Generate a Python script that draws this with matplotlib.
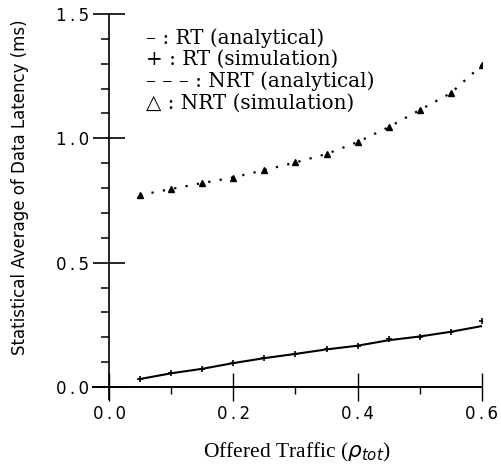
import matplotlib
matplotlib.use("Agg")
import matplotlib.pyplot as plt
from matplotlib.ticker import MultipleLocator, FixedLocator

# Offered traffic values
x_vals = [0.05, 0.10, 0.15, 0.20, 0.25, 0.30, 0.35, 0.40, 0.45, 0.50, 0.55, 0.60]

# RT (analytical / simulation)
rt_analytical = [0.032, 0.055, 0.073, 0.096, 0.116, 0.133, 0.151, 0.166, 0.188, 0.203, 0.222, 0.245]
rt_simulation = [0.032, 0.056, 0.072, 0.097, 0.117, 0.133, 0.153, 0.165, 0.193, 0.201, 0.221, 0.265]

# NRT (analytical / simulation)
nrt_analytical = [0.772, 0.796, 0.820, 0.843, 0.872, 0.903, 0.937, 0.985, 1.045, 1.114, 1.182, 1.295]
nrt_simulation = [0.772, 0.796, 0.820, 0.840, 0.872, 0.904, 0.936, 0.985, 1.045, 1.114, 1.182, 1.295]

y_ticks = [0.0, 0.5, 1.0, 1.5]
x_ticks = [0.0, 0.2, 0.4, 0.6]
legend_lines = ["\u2013 : RT (analytical)",
                "+ : RT (simulation)",
                "\u2013 \u2013 \u2013 : NRT (analytical)",
                "\u25B3 : NRT (simulation)"]

fig = plt.figure(figsize=(5.01, 4.68), dpi=100)
ax = fig.add_axes([0.1866, 0.1466, 0.7754, 0.8235])

ax.plot(x_vals, rt_analytical, color="black", lw=1.5, solid_capstyle="round")
ax.plot(x_vals, rt_simulation, ls="none", marker="+", ms=5, mew=1.2, color="black")
ax.plot(x_vals, nrt_analytical, color="black", lw=1.6, ls=(0, (1, 4.2)))
ax.plot(x_vals, nrt_simulation, ls="none", marker="^", ms=5, color="black")

ax.set_xlim(-0.025, 0.6)
ax.set_ylim(-0.05, 1.5)

for s in ["top", "right"]:
    ax.spines[s].set_visible(False)
ax.spines["left"].set_position(("data", 0))
ax.spines["bottom"].set_position(("data", 0))
ax.spines["left"].set_linewidth(1.2)
ax.spines["bottom"].set_linewidth(1.4)

ax.yaxis.set_major_locator(FixedLocator(y_ticks))
ax.yaxis.set_minor_locator(MultipleLocator(0.1))
ax.xaxis.set_major_locator(FixedLocator(x_ticks))
ax.xaxis.set_minor_locator(MultipleLocator(0.1))

ax.tick_params(axis="y", which="major", direction="inout", length=23, width=1.2, pad=3, labelsize=12)
ax.tick_params(axis="y", which="minor", direction="out", length=5.5, width=1.1)
ax.tick_params(axis="x", which="major", direction="inout", length=20, width=1.0, pad=3, labelsize=12)
ax.tick_params(axis="x", which="minor", direction="out", length=5, width=1.0)

sep = "\u2009.\u2009"
ax.set_yticklabels([f"{v:.1f}".replace(".", sep) for v in y_ticks], family="DejaVu Sans")
ax.set_xticklabels([f"{v:.1f}".replace(".", sep) for v in x_ticks], family="DejaVu Sans")

for i, t in enumerate(legend_lines):
    fig.text(146 / 501, 1 - (38 + i * 21.7) / 468, t, ha="left", va="center",
             fontsize=14.3, family="DejaVu Serif")

fig.text(20 / 501, 1 - 187 / 468, "Statistical Average of Data Latency (ms)", rotation=90,
         ha="center", va="center", fontsize=12, family="DejaVu Sans")
fig.text(297 / 501, 1 - 452 / 468, r"Offered Traffic ($\rho_{tot}$)", ha="center", va="center",
         fontsize=15.5, family=["Liberation Serif", "DejaVu Serif"])

fig.savefig("out.png", dpi=100)
